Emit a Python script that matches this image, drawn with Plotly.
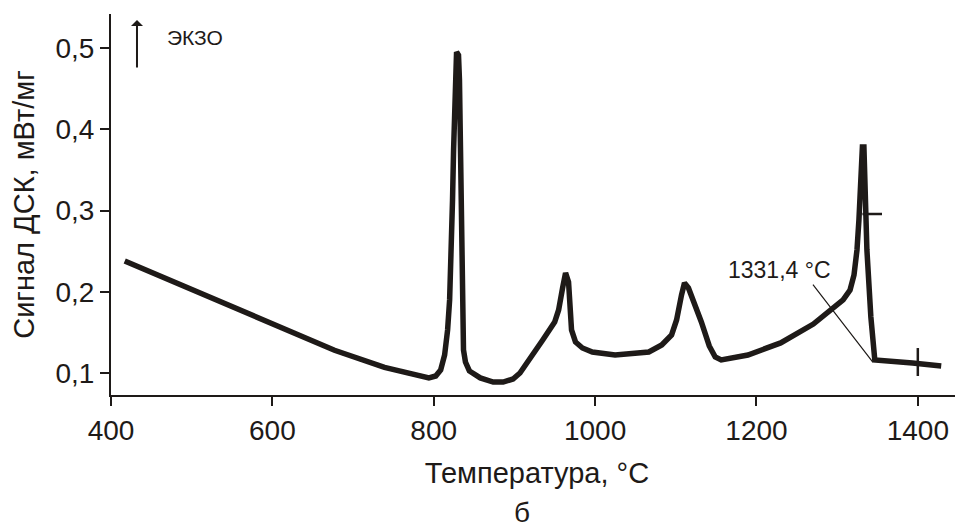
import plotly.graph_objects as go

# DSC curve: temperature (°C) and signal (mW/mg)
temperature = [417, 554, 677, 739, 775, 794, 802.5, 808.6, 813.5, 817.2, 819.7, 822.1, 823.3,
               824.6, 825.8, 827.0, 828.3, 830.7, 831.9, 833.2, 833.8, 834.4, 835.6, 836.9,
               839.3, 844.2, 857.7, 873.7, 886, 898.3, 906.9, 916.7, 935.1, 949.9, 954.8,
               959.7, 963.4, 967.1, 968.3, 970.8, 975.7, 984.3, 996.6, 1024.8, 1066.6, 1082.6,
               1094.8, 1101, 1107.1, 1110.8, 1115.7, 1121.9, 1131.7, 1141.5, 1148.9, 1156.3,
               1189.4, 1230, 1270.5, 1307.4, 1316, 1320.9, 1324.6, 1327, 1329.5, 1331.3,
               1333.2, 1334.4, 1336.9, 1341.8, 1346.7, 1393.4, 1429]
signal = [0.238, 0.180, 0.128, 0.107, 0.0975, 0.094, 0.0963, 0.1037, 0.1222, 0.153, 0.190,
          0.2515, 0.313, 0.3746, 0.436, 0.479, 0.4953, 0.4916, 0.461, 0.3746, 0.313, 0.239,
          0.1776, 0.1283, 0.1135, 0.1025, 0.094, 0.0889, 0.0889, 0.0926, 0.100, 0.1135,
          0.1406, 0.1628, 0.1776, 0.2047, 0.2232, 0.2121, 0.190, 0.153, 0.1382, 0.1308,
          0.1259, 0.1222, 0.1259, 0.1345, 0.1468, 0.1653, 0.196, 0.2108, 0.2047, 0.190,
          0.1628, 0.1333, 0.1197, 0.116, 0.1222, 0.137, 0.1603, 0.190, 0.2022, 0.2207,
          0.2515, 0.2884, 0.3315, 0.3783, 0.3783, 0.313, 0.2515, 0.169, 0.116, 0.1123, 0.1086]

# small tick marks drawn on the curve
hmark_T = [1343.5]
hmark_v = [0.2958]
vmark_T = [1400]
vmark_v = [0.1135]

# annotated point
note_T = 1344.2
note_v = 0.1135
note_text = "1331,4 °C"

x_ticks = [400, 600, 800, 1000, 1200, 1400]
y_ticks = [0.1, 0.2, 0.3, 0.4, 0.5]

FONT = "Liberation Sans, Arial, sans-serif"
INK = "#1e1a18"

fig = go.Figure()
fig.add_trace(go.Scatter(x=temperature, y=signal, mode="lines",
                         line=dict(color=INK, width=5.5), hoverinfo="skip"))
fig.add_trace(go.Scatter(x=hmark_T, y=hmark_v, mode="markers",
                         marker=dict(symbol="line-ew", size=14, line=dict(color=INK, width=2.5))))
fig.add_trace(go.Scatter(x=vmark_T, y=vmark_v, mode="markers",
                         marker=dict(symbol="line-ns", size=20, line=dict(color=INK, width=2.5))))

# pointer line and label
fig.add_annotation(x=note_T, y=note_v, text="", showarrow=True, arrowhead=0,
                   arrowwidth=1.2, arrowcolor=INK, ax=-61, ay=-79)
fig.add_annotation(x=note_T, y=note_v, text=note_text, showarrow=False,
                   xshift=-93, yshift=92, font=dict(family=FONT, size=23, color=INK))

# exo arrow
fig.add_annotation(xref="paper", yref="paper", x=0.0305, y=0.984, text="", showarrow=True,
                   arrowhead=1, arrowsize=1, arrowwidth=2, arrowcolor=INK, ax=0, ay=49)
fig.add_annotation(xref="paper", yref="paper", x=0.0634, y=0.9396, text="ЭКЗО",
                   showarrow=False, xanchor="left", yanchor="middle",
                   font=dict(family=FONT, size=21, color=INK))
fig.add_annotation(xref="paper", yref="paper", x=0.4824, y=-0.3097, text="б",
                   showarrow=False, xanchor="center", yanchor="middle",
                   font=dict(family=FONT, size=28, color=INK))

# page body has an 8px margin, so the figure is sized and offset to fit the window
fig.update_layout(
    width=955, height=522,
    margin=dict(l=103, r=0, t=6, b=135),
    paper_bgcolor="white", plot_bgcolor="white",
    showlegend=False,
    separators=", ",
    font=dict(family=FONT, color=INK),
)
fig.update_xaxes(range=[400, 1456], tickvals=x_ticks, ticks="outside", ticklen=9,
                 tickwidth=2, tickcolor=INK, showline=True, linewidth=2, linecolor=INK,
                 showgrid=False, zeroline=False, automargin=False,
                 tickfont=dict(size=28, family=FONT, color=INK),
                 title=dict(text="Температура, °C", font=dict(size=29, family=FONT, color=INK),
                            standoff=18))
fig.update_yaxes(range=[0.0729, 0.5421], tickvals=y_ticks, tickformat=".1f", ticks="outside",
                 ticklen=9, tickwidth=2, tickcolor=INK, showline=True, linewidth=2,
                 linecolor=INK, showgrid=False, zeroline=False, automargin=False,
                 tickfont=dict(size=28, family=FONT, color=INK),
                 title=dict(text="Сигнал ДСК, мВт/мг", font=dict(size=29, family=FONT, color=INK),
                            standoff=22))

fig.write_html("out.html")
